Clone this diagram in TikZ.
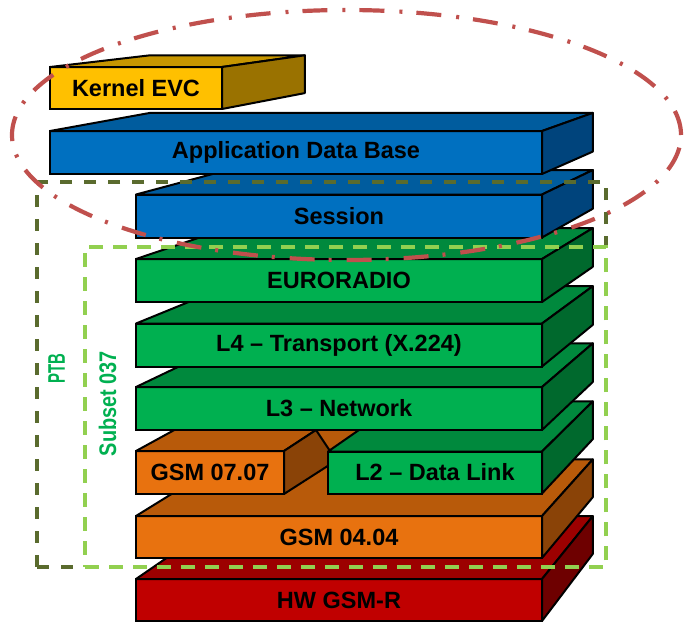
\documentclass[tikz,border=0pt]{standalone}
\usepackage{fontspec}
\setmainfont{Liberation Sans}
\usetikzlibrary{calc,shapes.geometric}
\definecolor{goldF}{HTML}{FFC000}
\definecolor{goldT}{HTML}{C79600}
\definecolor{goldS}{HTML}{9A7200}
\definecolor{blueF}{HTML}{0070C0}
\definecolor{blueT}{HTML}{005C9E}
\definecolor{blueS}{HTML}{00447C}
\definecolor{greenF}{HTML}{00B050}
\definecolor{greenT}{HTML}{00893D}
\definecolor{greenS}{HTML}{00692D}
\definecolor{orangeF}{HTML}{E8720F}
\definecolor{orangeT}{HTML}{B85A0A}
\definecolor{orangeS}{HTML}{8A4307}
\definecolor{redF}{HTML}{C00000}
\definecolor{redT}{HTML}{9C0000}
\definecolor{redS}{HTML}{6E0000}
\definecolor{ptbcol}{HTML}{5A6B2E}
\definecolor{subcol}{HTML}{92D050}
\definecolor{labcol}{HTML}{00B050}
\definecolor{ringcol}{HTML}{C0504D}

\newcommand\stackbox[7]{%
  \node[layer, fill=#6F, minimum width=#4pt, minimum height=#5pt] (#1) at (#2,#3) {#7};
  \draw[face, fill=#6T] (#1.north west) -- (#1.north east) -- ($(#1.north east)!0.1!(VP)$) -- ($(#1.north west)!0.1!(VP)$) -- cycle;
  \draw[face, fill=#6S] (#1.north east) -- ($(#1.north east)!0.1!(VP)$) -- ($(#1.south east)!0.1!(VP)$) -- (#1.south east) -- cycle;
}

\begin{document}
\begin{tikzpicture}[x=1pt, y=-1pt,
  layer/.style={draw=black, line width=2pt, outer sep=0pt, inner sep=0pt,
    font=\fontsize{23.5}{26}\selectfont\bfseries, text=black},
  face/.style={draw=black, line width=2pt, line join=round},
  ptbframe/.style={draw=ptbcol, line width=3.2pt, dash pattern=on 12pt off 12pt, inner sep=0pt, outer sep=0pt},
  subframe/.style={draw=subcol, line width=3.2pt, dash pattern=on 14pt off 10pt, inner sep=0pt, outer sep=0pt},
  sidelab/.style={font=\fontsize{24}{24}\selectfont\bfseries, text=labcol, inner sep=0pt},
  ring/.style={ellipse, draw=ringcol, line width=4.2pt, dash pattern=on 25pt off 14pt on 3pt off 15pt, inner sep=0pt}]
\useasboundingbox (0,0) rectangle (686,622);
\coordinate (VP) at (1050,-50);

\stackbox{hw}{339}{600}{406}{42}{red}{HW GSM-R}
\stackbox{g04}{339}{537}{406}{42}{orange}{GSM 04.04}

% GSM 07.07 with its partly hidden side face
\fill[orangeT] (316,430) -- (370,430) -- (328,458) -- cycle;
\node[layer, fill=orangeF, minimum width=148pt, minimum height=43pt] (g07) at (210,472.5) {GSM 07.07};
\draw[face, fill=orangeT] (g07.north west) -- (g07.north east) -- ($(g07.north east)!0.1!(VP)$) -- ($(g07.north west)!0.1!(VP)$) -- cycle;
\draw[face, fill=orangeS] (g07.north east) -- (316,430) -- (330,451) -- (330,464.5) -- (g07.south east) -- cycle;

\stackbox{l2}{435}{472.5}{214}{42}{green}{L2 – Data Link}
\stackbox{l3}{339}{408.5}{406}{43}{green}{L3 – Network}
\stackbox{l4}{339}{345}{406}{43}{green}{L4 – Transport (X.224)}
\stackbox{euro}{339}{280.5}{406}{43}{green}{EURORADIO}
\stackbox{ses}{339}{216}{406}{43}{blue}{Session}
\stackbox{adb}{296}{152.5}{492}{43}{blue}{Application Data Base}
\stackbox{kevc}{136}{88}{172}{42}{gold}{Kernel EVC}

\node[ptbframe, minimum width=569pt, minimum height=385pt] (ptb) at (321.5,374.5) {};
\node[subframe, minimum width=521pt, minimum height=320pt] (sub) at (345.5,407) {};

\node[sidelab, rotate=90] (ptblab) at (56.5,369) {\scalebox{0.62}[1]{PTB}};
\node[sidelab, rotate=90] (sublab) at (107.5,403.5) {\scalebox{0.83}[1]{Subset 037}};

\node[ring, minimum width=669pt, minimum height=250pt] (kring) at (346.5,135) {};
\end{tikzpicture}
\end{document}
